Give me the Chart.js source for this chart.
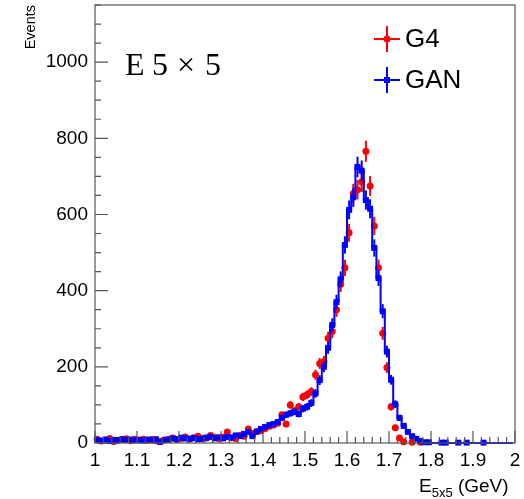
<!DOCTYPE html>
<html>
<head>
<meta charset="utf-8">
<script src="https://cdn.jsdelivr.net/npm/chart.js@4.4.0/dist/chart.umd.min.js"></script>
<style>
  html, body { margin: 0; padding: 0; background: #fff; }
  #wrap { width: 524px; height: 499px; }
</style>
</head>
<body>
<div id="wrap"><canvas id="histChart" width="524" height="499"></canvas></div>
<script>
// --- histogram binning: 100 bins between 1 and 2 GeV ---
const xMin = 1.0;
const xMax = 2.0;
const nBins = 100;
const yMax = 1150;

// tick labels
const xTicks = [1, 1.1, 1.2, 1.3, 1.4, 1.5, 1.6, 1.7, 1.8, 1.9, 2];
const yTicks = [0, 200, 400, 600, 800, 1000];

// bin contents
const g4Counts = [
  10, 5, 8, 12, 4, 7, 9, 11, 6, 10,
  8, 10, 7, 9, 6, 4, 8, 10, 13, 9,
  12, 16, 10, 14, 18, 11, 13, 20, 15, 12,
  16, 29, 14, 12, 20, 18, 37, 25, 30, 32,
  38, 44, 47, 52, 74, 50, 100, 85, 95, 121,
  127, 135, 179, 209, 214, 275, 293, 350, 417, 460,
  552, 655, 665, 685, 766, 675, 570, 460, 288, 198,
  95, 40, 13, 3, 0, 2, 0, 2, 0, 0,
  0, 0, 0, 0, 0, 0, 0, 0, 0, 0,
  0, 0, 0, 0, 0, 0, 0, 0, 0, 0
];
const ganCounts = [
  8, 6, 9, 5, 8, 7, 10, 8, 9, 7,
  8, 6, 9, 7, 10, 3, 8, 9, 12, 10,
  14, 12, 11, 13, 10, 12, 14, 16, 12, 15,
  12, 16, 14, 20, 18, 24, 29, 18, 30, 37,
  42, 47, 50, 55, 66, 74, 78, 82, 76, 90,
  95, 105, 130, 165, 200, 250, 310, 370, 430, 520,
  612, 645, 725, 715, 638, 615, 512, 433, 346, 240,
  166, 102, 66, 45, 29, 18, 11, 5, 2, 2,
  0, 0, 1, 1, 0, 0, 1, 0, 1, 0,
  0, 0, 1, 0, 0, 0, 0, 0, 0, 0
];

const binWidth = (xMax - xMin) / nBins;
function toPoints(counts) {
  return counts.map((c, i) => ({ x: xMin + (i + 0.5) * binWidth, y: c }));
}

const RED = '#ff0000';
const BLUE = '#0000ff';

// 오차 막대 (sqrt(N)) - 마커 아래에 그림
const errorBarPlugin = {
  id: 'errorBars',
  beforeDatasetDraw(chart, args) {
    const ds = chart.data.datasets[args.index];
    const yScale = chart.scales.y;
    const ctx = chart.ctx;
    ctx.save();
    ctx.strokeStyle = ds.borderColor;
    ctx.lineWidth = 2;
    args.meta.data.forEach((pt, i) => {
      const v = ds.data[i].y;
      if (!v) return;
      const e = Math.sqrt(v);
      ctx.beginPath();
      ctx.moveTo(pt.x, yScale.getPixelForValue(v - e));
      ctx.lineTo(pt.x, yScale.getPixelForValue(v + e));
      ctx.stroke();
    });
    ctx.restore();
  }
};

// 프레임, 눈금, 제목, 범례
const framePlugin = {
  id: 'rootFrame',
  afterDraw(chart) {
    const ctx = chart.ctx;
    const a = chart.chartArea;
    const xs = chart.scales.x, ys = chart.scales.y;
    ctx.save();
    ctx.strokeStyle = '#555';
    ctx.lineWidth = 1.2;
    ctx.strokeRect(a.left, a.top, a.right - a.left, a.bottom - a.top);

    // x ticks (major 0.1, minor 0.02)
    ctx.beginPath();
    for (let i = 0; i <= 50; i++) {
      const px = xs.getPixelForValue(xMin + i * 0.02);
      const len = (i % 5 === 0) ? 12 : 6;
      ctx.moveTo(px, a.bottom);
      ctx.lineTo(px, a.bottom - len);
    }
    // y ticks (major 200, minor 50)
    for (let v = 0; v <= yMax; v += 50) {
      const py = ys.getPixelForValue(v);
      const len = (v % 200 === 0) ? 13 : 6;
      ctx.moveTo(a.left, py);
      ctx.lineTo(a.left + len, py);
    }
    ctx.stroke();

    // y title
    ctx.fillStyle = '#000';
    ctx.save();
    ctx.translate(31, a.top);
    ctx.rotate(-Math.PI / 2);
    ctx.font = '14.5px "Liberation Sans"';
    ctx.textAlign = 'right';
    ctx.textBaseline = 'middle';
    ctx.fillText('Events', 0, 0);
    ctx.restore();

    // x title: E_{5x5} (GeV)
    ctx.textAlign = 'left';
    ctx.textBaseline = 'alphabetic';
    let tx = 419;
    ctx.font = '19px "Liberation Sans"';
    ctx.fillText('E', tx, 492);
    tx += ctx.measureText('E').width;
    ctx.font = '13px "Liberation Sans"';
    ctx.fillText('5x5', tx, 497);
    tx += ctx.measureText('5x5').width;
    ctx.font = '19px "Liberation Sans"';
    ctx.fillText(' (GeV)', tx, 492);

    // label "E 5 × 5"
    ctx.font = '32px "Liberation Serif"';
    ctx.fillText('E', 125, 75);
    ctx.fillText('5', 152, 75);
    ctx.fillText('\u00d7', 177, 75);
    ctx.fillText('5', 205, 75);

    // legend
    const entries = [
      { label: 'G4', color: RED, style: 'circle', y: 39 },
      { label: 'GAN', color: BLUE, style: 'rect', y: 80 }
    ];
    entries.forEach(en => {
      ctx.strokeStyle = en.color;
      ctx.fillStyle = en.color;
      ctx.lineWidth = 2;
      ctx.beginPath();
      ctx.moveTo(374, en.y);
      ctx.lineTo(400, en.y);
      ctx.moveTo(387, en.y - 13);
      ctx.lineTo(387, en.y + 13);
      ctx.stroke();
      if (en.style === 'circle') {
        ctx.beginPath();
        ctx.arc(387, en.y, 3.5, 0, Math.PI * 2);
        ctx.fill();
      } else {
        ctx.fillRect(384, en.y - 3, 6, 6);
      }
      ctx.fillStyle = '#000';
      ctx.font = '26px "Liberation Sans"';
      ctx.textBaseline = 'middle';
      ctx.fillText(en.label, 405, en.y + 1);
    });
    ctx.restore();
  }
};

const ctx = document.getElementById('histChart').getContext('2d');
const histChart = new Chart(ctx, {
  type: 'line',
  data: {
    datasets: [
      {
        label: 'G4',
        data: toPoints(g4Counts),
        showLine: false,
        borderColor: RED,
        backgroundColor: RED,
        pointStyle: 'circle',
        pointRadius: c => (c.raw && c.raw.y > 0 ? 3.5 : 0),
        pointBorderWidth: 0,
        clip: false,
        order: 1
      },
      {
        label: 'GAN',
        data: toPoints(ganCounts),
        stepped: 'middle',
        borderColor: BLUE,
        backgroundColor: BLUE,
        borderWidth: 2,
        pointStyle: 'rect',
        pointRadius: c => (c.raw && c.raw.y > 0 ? 4.2 : 0),
        pointBorderWidth: 0,
        clip: false,
        order: 0
      }
    ]
  },
  options: {
    responsive: false,
    animation: false,
    layout: { padding: { top: 5, right: 9, left: 0, bottom: 0 } },
    plugins: { legend: { display: false }, tooltip: { enabled: false } },
    scales: {
      x: {
        type: 'linear',
        min: xMin,
        max: xMax,
        afterFit: s => { s.height = 56; s.paddingLeft = 0; s.paddingRight = 0; },
        afterBuildTicks: s => { s.ticks = xTicks.map(v => ({ value: v })); },
        grid: { display: false, drawTicks: false },
        border: { display: false },
        ticks: {
          color: '#000',
          font: { family: 'Liberation Sans', size: 19 },
          padding: 6,
          maxRotation: 0,
          autoSkip: false,
          callback: v => String(Math.round(v * 10) / 10)
        }
      },
      y: {
        type: 'linear',
        min: 0,
        max: yMax,
        afterFit: s => { s.width = 95; s.paddingTop = 0; s.paddingBottom = 0; },
        afterBuildTicks: s => { s.ticks = yTicks.map(v => ({ value: v })); },
        grid: { display: false, drawTicks: false },
        border: { display: false },
        ticks: {
          color: '#000',
          font: { family: 'Liberation Sans', size: 19 },
          padding: 7,
          callback: v => String(v)
        }
      }
    }
  },
  plugins: [errorBarPlugin, framePlugin]
});
</script>
</body>
</html>
